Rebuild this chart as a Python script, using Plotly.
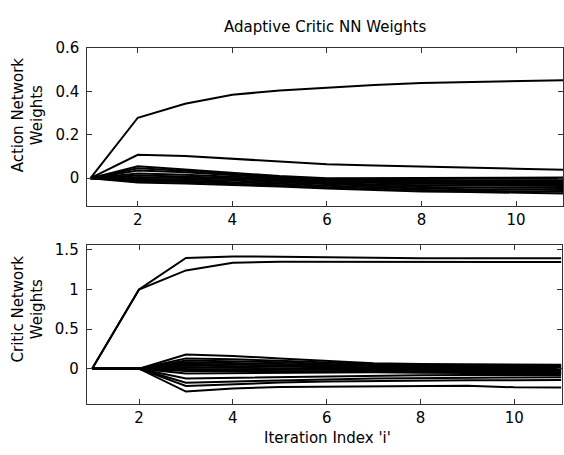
import plotly.graph_objects as go

# ---------------- data ----------------
iterations = [1, 2, 3, 4, 5, 6, 7, 8, 9, 10, 11]

action_weights = [
    [0, 0.279, 0.344, 0.385, 0.405, 0.419, 0.430, 0.440, 0.445, 0.449, 0.452],
    [0, 0.108, 0.103, 0.089, 0.076, 0.064, 0.059, 0.053, 0.048, 0.044, 0.039],
    [0, 0.055, 0.040, 0.024, 0.010, 0.000, 0.000, 0.002, 0.003, 0.003, 0.003],
    [0, 0.046, 0.034, 0.020, 0.006, -0.004, -0.005, -0.004, -0.003, -0.003, -0.003],
    [0, 0.036, 0.027, 0.014, 0.002, -0.008, -0.011, -0.011, -0.010, -0.010, -0.010],
    [0, 0.022, 0.016, 0.008, -0.002, -0.012, -0.017, -0.018, -0.018, -0.018, -0.018],
    [0, 0.012, 0.008, 0.002, -0.007, -0.017, -0.023, -0.026, -0.027, -0.027, -0.027],
    [0, 0.004, 0.001, -0.004, -0.013, -0.022, -0.029, -0.033, -0.035, -0.036, -0.036],
    [0, -0.002, -0.006, -0.011, -0.019, -0.028, -0.035, -0.040, -0.043, -0.044, -0.045],
    [0, -0.008, -0.012, -0.018, -0.026, -0.035, -0.042, -0.047, -0.051, -0.053, -0.054],
    [0, -0.014, -0.018, -0.024, -0.032, -0.042, -0.049, -0.054, -0.058, -0.060, -0.062],
    [0, -0.020, -0.024, -0.030, -0.038, -0.048, -0.055, -0.061, -0.064, -0.066, -0.070],
]

critic_weights = [
    [0, 1.0, 1.397, 1.415, 1.414, 1.405, 1.400, 1.395, 1.393, 1.393, 1.393],
    [0, 1.0, 1.240, 1.338, 1.350, 1.350, 1.350, 1.349, 1.348, 1.347, 1.347],
    [0, 0, 0.178, 0.160, 0.130, 0.100, 0.070, 0.060, 0.055, 0.052, 0.050],
    [0, 0, 0.130, 0.120, 0.100, 0.080, 0.055, 0.045, 0.040, 0.038, 0.036],
    [0, 0, 0.104, 0.095, 0.080, 0.060, 0.040, 0.032, 0.027, 0.025, 0.024],
    [0, 0, 0.080, 0.072, 0.060, 0.045, 0.028, 0.020, 0.015, 0.013, 0.012],
    [0, 0, 0.062, 0.055, 0.045, 0.032, 0.016, 0.008, 0.004, 0.002, 0.001],
    [0, 0, 0.040, 0.035, 0.028, 0.018, 0.004, -0.004, -0.008, -0.010, -0.011],
    [0, 0, 0.020, 0.015, 0.010, 0.004, -0.008, -0.016, -0.020, -0.022, -0.023],
    [0, 0, 0.000, -0.005, -0.008, -0.012, -0.020, -0.028, -0.032, -0.034, -0.035],
    [0, 0, -0.030, -0.030, -0.028, -0.028, -0.032, -0.040, -0.044, -0.046, -0.047],
    [0, 0, -0.060, -0.055, -0.050, -0.045, -0.046, -0.052, -0.056, -0.058, -0.060],
    [0, 0, -0.124, -0.115, -0.105, -0.095, -0.088, -0.083, -0.080, -0.080, -0.080],
    [0, 0, -0.177, -0.160, -0.145, -0.135, -0.125, -0.118, -0.112, -0.110, -0.108],
    [0, 0, -0.218, -0.195, -0.175, -0.162, -0.155, -0.150, -0.147, -0.145, -0.144],
    [0, 0, -0.289, -0.250, -0.230, -0.225, -0.222, -0.215, -0.215, -0.235, -0.238],
]

x_ticks = [2, 4, 6, 8, 10]
action_ticks = [0, 0.2, 0.4, 0.6]
critic_ticks = [0, 0.5, 1, 1.5]

title_text = "Adaptive Critic NN Weights"
action_label = "Action Network<br>Weights"
critic_label = "Critic Network<br>Weights"
x_label = "Iteration Index 'i'"

# ---------------- figure ----------------
W, H = 564, 455
FONT = "DejaVu Sans"
AX = "#333333"

fig = go.Figure()
for w in action_weights:
    fig.add_trace(go.Scatter(x=iterations, y=w, mode="lines", xaxis="x", yaxis="y",
                             line=dict(color="black", width=2), showlegend=False, hoverinfo="skip"))
for w in critic_weights:
    fig.add_trace(go.Scatter(x=iterations, y=w, mode="lines", xaxis="x2", yaxis="y2",
                             line=dict(color="black", width=2), showlegend=False, hoverinfo="skip"))

def ax_common():
    return dict(showgrid=False, zeroline=False, showline=True, linecolor=AX, linewidth=1,
                ticks="inside", ticklen=5, tickcolor=AX, tickwidth=1, mirror="ticks",
                tickfont=dict(family=FONT, size=15, color="black"))

def px2x(p):
    return p / W

def px2y(p):
    return (H - p) / H

fig.update_layout(
    width=W, height=H, margin=dict(l=0, r=0, t=0, b=0),
    paper_bgcolor="white", plot_bgcolor="white",
    xaxis=dict(domain=[px2x(87.3), px2x(563.3)], range=[0.932, 11.0], anchor="y",
               tickvals=x_ticks, ticklabelstandoff=0, **ax_common()),
    yaxis=dict(domain=[px2y(200.7), px2y(40)], range=[-0.127, 0.6], anchor="x",
               tickvals=action_ticks, ticklabelstandoff=4, **ax_common()),
    xaxis2=dict(domain=[px2x(86.7), px2x(561.7)], range=[0.885, 11.01], anchor="y2",
                tickvals=x_ticks, ticklabelstandoff=0, **ax_common()),
    yaxis2=dict(domain=[px2y(403), px2y(241)], range=[-0.446, 1.558], anchor="x2",
                tickvals=critic_ticks, ticklabelstandoff=4, **ax_common()),
    annotations=[
        dict(text=title_text, x=px2x(325), y=px2y(18.5), xref="paper", yref="paper",
             xanchor="center", yanchor="middle", showarrow=False,
             font=dict(family=FONT, size=15, color="black")),
        dict(text=action_label, x=px2x(27.5), y=px2y(108), xref="paper", yref="paper",
             xanchor="center", yanchor="middle", showarrow=False, textangle=-90,
             font=dict(family=FONT, size=15, color="black")),
        dict(text=critic_label, x=px2x(27.5), y=px2y(306), xref="paper", yref="paper",
             xanchor="center", yanchor="middle", showarrow=False, textangle=-90,
             font=dict(family=FONT, size=15, color="black")),
        dict(text=x_label, x=px2x(327), y=px2y(438), xref="paper", yref="paper",
             xanchor="center", yanchor="middle", showarrow=False,
             font=dict(family=FONT, size=15, color="black")),
    ],
)

fig.write_html("out.html")
